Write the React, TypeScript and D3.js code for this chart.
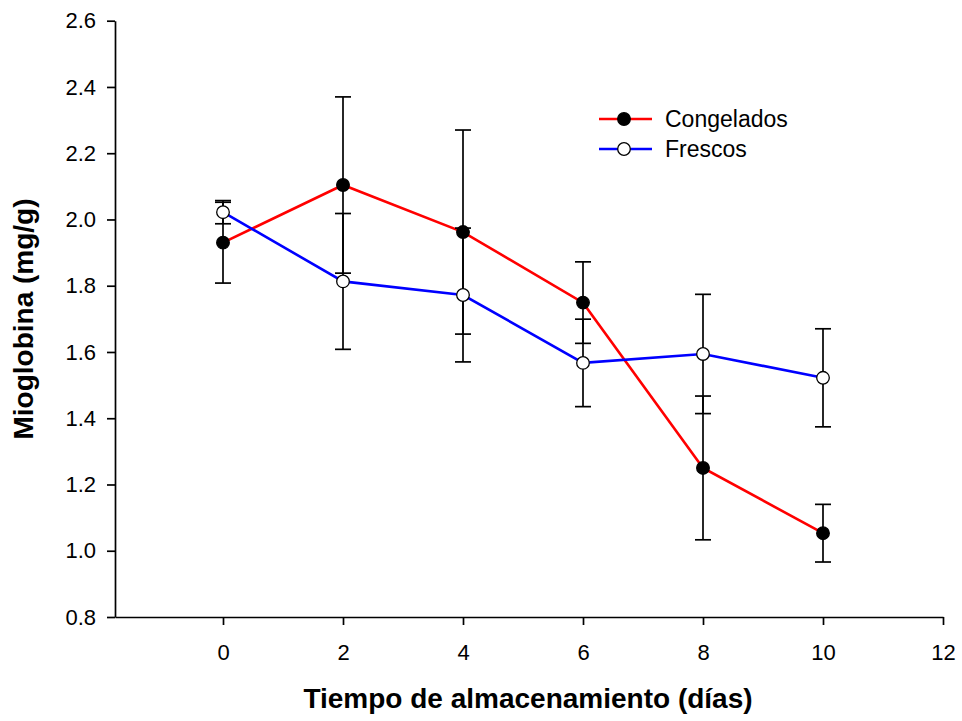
import React, { useEffect, useRef } from 'react';
import * as d3 from 'd3';

// storage days
const days = [0, 2, 4, 6, 8, 10];

// Congelados (frozen)
const congeladosMean = [1.93, 2.104, 1.962, 1.749, 1.25, 1.053];
const congeladosErr = [0.122, 0.266, 0.308, 0.123, 0.217, 0.087];

// Frescos (fresh)
const frescosMean = [2.022, 1.813, 1.772, 1.567, 1.594, 1.522];
const frescosErr = [0.035, 0.205, 0.202, 0.132, 0.18, 0.148];

const xTicks = [0, 2, 4, 6, 8, 10, 12];
const yTicks = [0.8, 1.0, 1.2, 1.4, 1.6, 1.8, 2.0, 2.2, 2.4, 2.6];

const series = [
  { name: 'Congelados', mean: congeladosMean, err: congeladosErr, color: '#ff0000', fill: '#000000' },
  { name: 'Frescos', mean: frescosMean, err: frescosErr, color: '#0000ff', fill: '#ffffff' },
];

const App: React.FC = () => {
  const ref = useRef<SVGSVGElement>(null);

  useEffect(() => {
    if (!ref.current) return;
    const svg = d3.select(ref.current);
    svg.selectAll('*').remove();

    const font = 'Liberation Sans, Arial, sans-serif';
    const x = d3.scaleLinear().domain([-1.8, 12]).range([115, 943]);
    const y = d3.scaleLinear().domain([0.8, 2.6]).range([617, 20.7]);

    // y axis
    const yAxis = svg
      .append('g')
      .attr('transform', 'translate(115,0)')
      .call(d3.axisLeft(y).tickValues(yTicks).tickSize(8).tickSizeOuter(0).tickPadding(11).tickFormat(d3.format('.1f')));
    yAxis.select('.domain').attr('stroke', '#000').attr('stroke-width', 1.7);
    yAxis.selectAll('.tick line').attr('stroke', '#000').attr('stroke-width', 1.7);
    yAxis.selectAll('.tick text').attr('font-family', font).attr('font-size', 22).attr('fill', '#000');

    // x axis
    const xAxis = svg
      .append('g')
      .attr('transform', 'translate(0,617)')
      .call(d3.axisBottom(x).tickValues(xTicks).tickSize(8).tickSizeOuter(0).tickPadding(19).tickFormat(d3.format('d')));
    xAxis.select('.domain').attr('stroke', '#000').attr('stroke-width', 1.7);
    xAxis.selectAll('.tick line').attr('stroke', '#000').attr('stroke-width', 1.7);
    xAxis.selectAll('.tick text').attr('font-family', font).attr('font-size', 22).attr('fill', '#000');

    // axis titles
    svg
      .append('text')
      .attr('x', 528)
      .attr('y', 708)
      .attr('text-anchor', 'middle')
      .attr('font-family', font)
      .attr('font-weight', 'bold')
      .attr('font-size', 28)
      .text('Tiempo de almacenamiento (días)');

    svg
      .append('text')
      .attr('transform', 'translate(33,319) rotate(-90)')
      .attr('text-anchor', 'middle')
      .attr('font-family', font)
      .attr('font-weight', 'bold')
      .attr('font-size', 28)
      .text('Mioglobina (mg/g)');

    const line = d3
      .line<number>()
      .x((_, i) => x(days[i]))
      .y((d) => y(d));

    // lines
    series.forEach((s) => {
      svg
        .append('path')
        .datum(s.mean)
        .attr('fill', 'none')
        .attr('stroke', s.color)
        .attr('stroke-width', 2.6)
        .attr('d', line);
    });

    // error bars
    series.forEach((s) => {
      const g = svg.append('g').attr('stroke', '#000').attr('stroke-width', 1.7);
      s.mean.forEach((m, i) => {
        const cx = x(days[i]);
        const lo = y(m - s.err[i]);
        const hi = y(m + s.err[i]);
        g.append('line').attr('x1', cx).attr('x2', cx).attr('y1', lo).attr('y2', hi);
        g.append('line').attr('x1', cx - 8).attr('x2', cx + 8).attr('y1', lo).attr('y2', lo);
        g.append('line').attr('x1', cx - 8).attr('x2', cx + 8).attr('y1', hi).attr('y2', hi);
      });
    });

    // markers
    series.forEach((s) => {
      svg
        .append('g')
        .selectAll('circle')
        .data(s.mean)
        .join('circle')
        .attr('cx', (_, i) => x(days[i]))
        .attr('cy', (d) => y(d))
        .attr('r', 6.3)
        .attr('fill', s.fill)
        .attr('stroke', '#000')
        .attr('stroke-width', 1.3);
    });

    // legend
    const legend = svg.append('g');
    series.forEach((s, i) => {
      const ly = 119 + i * 30;
      legend
        .append('line')
        .attr('x1', 599)
        .attr('x2', 652)
        .attr('y1', ly)
        .attr('y2', ly)
        .attr('stroke', s.color)
        .attr('stroke-width', 2.6);
      legend
        .append('circle')
        .attr('cx', 624)
        .attr('cy', ly)
        .attr('r', 6.3)
        .attr('fill', s.fill)
        .attr('stroke', '#000')
        .attr('stroke-width', 1.3);
      legend
        .append('text')
        .attr('x', 665)
        .attr('y', ly)
        .attr('dy', '0.35em')
        .attr('font-family', font)
        .attr('font-size', 23)
        .text(s.name);
    });
  }, []);

  return (
    <svg
      ref={ref}
      width={962}
      height={721}
      style={{ position: 'absolute', left: 0, top: 0, background: '#fff' }}
    />
  );
};

export default App;
